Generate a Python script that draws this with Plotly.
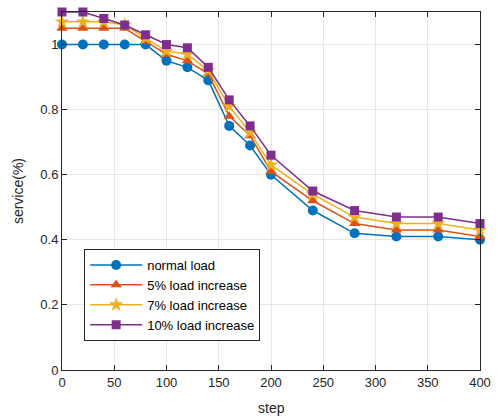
import plotly.graph_objects as go

steps = [0, 20, 40, 60, 80, 100, 120, 140, 160, 180, 200, 240, 280, 320, 360, 400]
normal_load = [1.00, 1.00, 1.00, 1.00, 1.00, 0.95, 0.93, 0.89, 0.75, 0.69, 0.60, 0.49, 0.42, 0.41, 0.41, 0.40]
load_5 = [1.05, 1.05, 1.05, 1.05, 1.01, 0.97, 0.95, 0.91, 0.78, 0.72, 0.61, 0.52, 0.45, 0.43, 0.43, 0.41]
load_7 = [1.07, 1.07, 1.07, 1.06, 1.02, 0.98, 0.97, 0.92, 0.81, 0.73, 0.63, 0.54, 0.47, 0.45, 0.45, 0.43]
load_10 = [1.10, 1.10, 1.08, 1.06, 1.03, 1.00, 0.99, 0.93, 0.83, 0.75, 0.66, 0.55, 0.49, 0.47, 0.47, 0.45]

names = ["normal load", "5% load increase", "7% load increase", "10% load increase"]
colors = ["#0072BD", "#D95319", "#EDB120", "#7E2F8E"]
symbols = ["circle", "triangle-up", "star", "square"]
sizes = [10, 10, 11, 9]
series = [normal_load, load_5, load_7, load_10]

fig = go.Figure()
for name, vals, c, s, sz in zip(names, series, colors, symbols, sizes):
    fig.add_trace(go.Scatter(
        x=steps, y=vals, name=name, mode="lines+markers",
        line=dict(color=c, width=1.5),
        marker=dict(symbol=s, size=sz, color=c, line=dict(width=0)),
        cliponaxis=False,
    ))

axis_common = dict(
    showline=True, linecolor="#262626", linewidth=1, mirror="ticks",
    ticks="inside", ticklen=5, tickcolor="#262626",
    showgrid=True, gridcolor="#e6e6e6", gridwidth=1, zeroline=False,
    automargin=False,
    tickfont=dict(family="Liberation Sans, Arial, sans-serif", size=13, color="#262626"),
)

fig.update_layout(
    width=498, height=418,
    margin=dict(l=62, r=18, t=12, b=48),
    paper_bgcolor="white", plot_bgcolor="white",
    font=dict(family="Liberation Sans, Arial, sans-serif", size=13, color="#262626"),
    xaxis=dict(range=[0, 400], tickmode="array", tickvals=[0, 50, 100, 150, 200, 250, 300, 350, 400],
               **axis_common),
    yaxis=dict(range=[0, 1.1], tickmode="array", tickvals=[0, 0.2, 0.4, 0.6, 0.8, 1.0],
               ticktext=["0", "0.2", "0.4", "0.6", "0.8", "1"],
               **axis_common),
    legend=dict(x=0.053, y=0.338, xanchor="left", yanchor="top",
                bgcolor="white", bordercolor="#262626", borderwidth=1,
                font=dict(size=13, color="#000000"), tracegroupgap=0,
                itemwidth=52),
    showlegend=True,
    annotations=[
        dict(text="step", xref="paper", yref="paper", x=0.5, y=-0.106,
             xanchor="center", yanchor="middle", showarrow=False,
             font=dict(size=14, color="#262626")),
        dict(text="service(%)", xref="paper", yref="paper", x=-0.105, y=0.5,
             xanchor="center", yanchor="middle", showarrow=False, textangle=-90,
             font=dict(size=14, color="#262626")),
    ],
)

fig.write_html("out.html", config={"displayModeBar": False},
               post_script="document.body.style.margin='0';")
